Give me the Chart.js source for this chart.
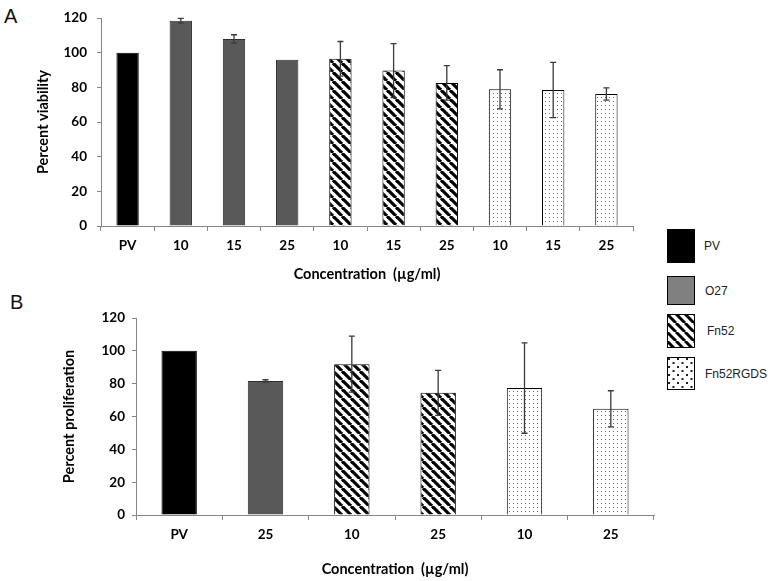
<!DOCTYPE html>
<html>
<head>
<meta charset="utf-8">
<script src="https://cdn.jsdelivr.net/npm/chart.js@4.4.1/dist/chart.umd.min.js"></script>
<style>
  body { margin: 0; background: #fff; width: 768px; height: 581px; position: relative; overflow: hidden; font-family: "Liberation Sans", Arial, sans-serif; }
  canvas.chart { position: absolute; left: 0; }
  #chartA { top: 0; }
  #chartB { top: 290px; }
  .panel { position: absolute; font-size: 20px; color: #111; line-height: 1; }
  .legend-item { position: absolute; left: 667px; }
  .legend-item canvas { position: absolute; left: 0; top: 0; }
  .legend-item span { position: absolute; font-size: 12px; color: #222; white-space: nowrap; transform: translateY(-50%); }
</style>
</head>
<body>
<div class="panel" style="left:4px;top:6px;">A</div>
<div class="panel" style="left:10px;top:292px;">B</div>
<canvas id="chartA" class="chart" width="660" height="285"></canvas>
<canvas id="chartB" class="chart" width="660" height="291"></canvas>
<div id="legend"></div>
<script>
// panel A - viability
const categoriesA = ['PV', '10', '15', '25', '10', '15', '25', '10', '15', '25'];
const groupsA = ['PV', 'O27', 'O27', 'O27', 'Fn52', 'Fn52', 'Fn52', 'Fn52RGDS', 'Fn52RGDS', 'Fn52RGDS'];
const viability = [100, 118.5, 108, 96, 96.5, 89.7, 82.6, 78.9, 78.5, 76.2];
const viabilityErr = [0, 1.3, 2.4, 0, 10, 15.6, 10, 11.3, 16, 3.5];

// panel B - proliferation
const categoriesB = ['PV', '25', '10', '25', '10', '25'];
const groupsB = ['PV', 'O27', 'Fn52', 'Fn52', 'Fn52RGDS', 'Fn52RGDS'];
const proliferation = [100, 81.7, 91.9, 74.4, 77.3, 64.7];
const proliferationErr = [0, 0.7, 17, 13.7, 27.5, 11];

const yTicks = [0, 20, 40, 60, 80, 100, 120];
const legendLabels = ['PV', 'O27', 'Fn52', 'Fn52RGDS'];

const AXIS = '#868686';
const FONT = 'Lato, "Open Sans", sans-serif';

function stripePattern(size, width) {
    const c = document.createElement('canvas');
    c.width = c.height = size;
    const g = c.getContext('2d');
    g.fillStyle = '#fff';
    g.fillRect(0, 0, size, size);
    g.strokeStyle = '#000';
    g.lineWidth = width;
    for (let k = -1; k <= 1; k++) {
        g.beginPath();
        g.moveTo(k * size, 0);
        g.lineTo(k * size + size, size);
        g.stroke();
    }
    return g.createPattern(c, 'repeat');
}

function dotPattern(w, h, dot, color, stagger) {
    const c = document.createElement('canvas');
    c.width = w;
    c.height = h;
    const g = c.getContext('2d');
    g.fillStyle = '#fff';
    g.fillRect(0, 0, w, h);
    g.fillStyle = color;
    g.fillRect(1, 1, dot, dot);
    if (stagger) g.fillRect(1 + w / 2, 1 + h / 2, dot, dot);
    return g.createPattern(c, 'repeat');
}

const fills = {
    PV: '#000',
    O27: '#595959',
    Fn52: stripePattern(9, 3.2),
    Fn52RGDS: dotPattern(4, 4, 1, '#6a6a6a', false),
};
const borders = { PV: '#000', O27: '#2e2e2e', Fn52: '#000', Fn52RGDS: '#000' };

// draws the +/- error bars on top of each bar
const errorBars = {
    id: 'errorBars',
    afterDatasetsDraw(chart, args, opts) {
        const { ctx } = chart;
        const y = chart.scales.y;
        const values = chart.data.datasets[0].data;
        ctx.save();
        ctx.strokeStyle = '#3a3a3a';
        ctx.lineWidth = 1.3;
        chart.getDatasetMeta(0).data.forEach((bar, i) => {
            const e = opts.errors[i];
            if (!e) return;
            const top = y.getPixelForValue(values[i] + e);
            const bot = y.getPixelForValue(values[i] - e);
            ctx.beginPath();
            ctx.moveTo(bar.x, top); ctx.lineTo(bar.x, bot);
            ctx.moveTo(bar.x - 3, top); ctx.lineTo(bar.x + 3, top);
            ctx.moveTo(bar.x - 3, bot); ctx.lineTo(bar.x + 3, bot);
            ctx.stroke();
        });
        ctx.restore();
    }
};

function makeChart(id, labels, groups, values, errors, yTitle, geo) {
    return new Chart(document.getElementById(id), {
        type: 'bar',
        data: {
            labels: labels,
            datasets: [{
                data: values,
                backgroundColor: groups.map(g => fills[g]),
                borderColor: groups.map(g => borders[g]),
                borderWidth: 1,
                categoryPercentage: 1,
                barPercentage: geo.bar,
            }]
        },
        plugins: [errorBars],
        options: {
            responsive: false,
            animation: false,
            layout: { padding: { top: geo.top, right: geo.right, left: 0, bottom: 0 } },
            plugins: {
                legend: { display: false },
                tooltip: { enabled: false },
                errorBars: { errors: errors },
            },
            scales: {
                x: {
                    grid: { offset: true, drawOnChartArea: false, drawTicks: true, tickLength: 5, color: AXIS },
                    border: { color: AXIS },
                    ticks: { color: '#000', padding: geo.xTickPad, maxRotation: 0, font: { family: FONT, size: 13.5, weight: 'bold' } },
                    title: { display: true, text: 'Concentration  (µg/ml)', color: '#000', font: { family: FONT, size: 14.5, weight: 'bold' }, padding: { top: 0, bottom: geo.xTitlePad } },
                    afterFit: s => { s.height = geo.xHeight; },
                },
                y: {
                    min: 0,
                    max: 120,
                    afterBuildTicks: s => { s.ticks = yTicks.map(v => ({ value: v })); },
                    grid: { drawOnChartArea: false, drawTicks: true, tickLength: 4, color: AXIS },
                    border: { color: AXIS },
                    ticks: { color: '#000', padding: geo.yTickPad, font: { family: FONT, size: 13.5, weight: 'bold' } },
                    title: { display: true, text: yTitle, color: '#000', font: { family: FONT, size: 14.5, weight: 'bold' }, padding: { top: geo.yTitlePad, bottom: 0 } },
                    afterFit: s => { s.width = geo.yWidth; },
                }
            }
        }
    });
}

makeChart('chartA', categoriesA, groupsA, viability, viabilityErr, 'Percent viability',
    { bar: 0.42, top: 17, right: 27, xHeight: 59, xTickPad: 7, xTitlePad: 2, yWidth: 101, yTickPad: 10, yTitlePad: 35 });
makeChart('chartB', categoriesB, groupsB, proliferation, proliferationErr, 'Percent proliferation',
    { bar: 0.41, top: 28, right: 6, xHeight: 66, xTickPad: 7, xTitlePad: 3, yWidth: 136, yTickPad: 7, yTitlePad: 61 });

// legend on the right, shared by both panels
const legendBoxes = [
    { top: 229, h: 34, textX: 37 },
    { top: 276, h: 29, textX: 38 },
    { top: 314, h: 34, textX: 40 },
    { top: 357, h: 33, textX: 38 },
];
const legendFills = [fills.PV, '#808080', null, null];
const legendEl = document.getElementById('legend');
legendLabels.forEach((name, i) => {
    const b = legendBoxes[i];
    const item = document.createElement('div');
    item.className = 'legend-item';
    item.style.top = b.top + 'px';
    const c = document.createElement('canvas');
    c.width = 28;
    c.height = b.h;
    const g = c.getContext('2d');
    g.fillStyle = legendFills[i] || (name === 'Fn52' ? stripePattern(9, 3) : dotPattern(9, 8, 2, '#222', true));
    g.fillRect(0, 0, 28, b.h);
    g.strokeStyle = '#000';
    g.lineWidth = 1;
    g.strokeRect(0.5, 0.5, 27, b.h - 1);
    item.appendChild(c);
    const t = document.createElement('span');
    t.textContent = name;
    t.style.left = b.textX + 'px';
    t.style.top = (b.h / 2) + 'px';
    item.appendChild(t);
    legendEl.appendChild(item);
});
</script>
</body>
</html>
